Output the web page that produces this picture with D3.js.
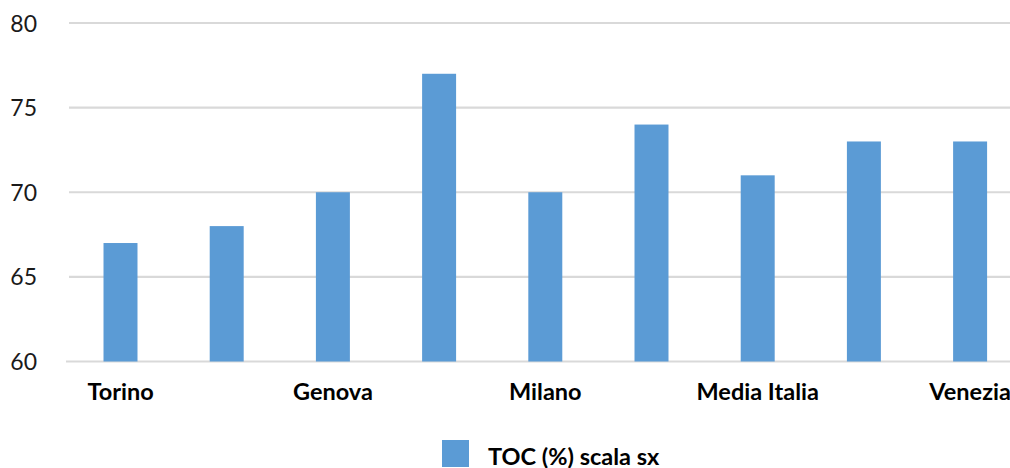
<!DOCTYPE html>
<html>
<head>
<meta charset="utf-8">
<script src="https://cdn.jsdelivr.net/npm/d3@7"></script>
<style>
  html, body { margin: 0; padding: 0; background: #fff; }
  svg { display: block; }
</style>
</head>
<body>
<svg id="chart" width="1010" height="468"></svg>
<script>
// Category labels (Excel only prints every other one, the rest stay blank)
const categories = ["Torino", "", "Genova", "", "Milano", "", "Media Italia", "", "Venezia"];
// TOC (%) per category
const tocValues = [67, 68, 70, 77, 70, 74, 71, 73, 73];
// Left-axis ticks
const yTicks = [60, 65, 70, 75, 80];
const seriesName = "TOC (%) scala sx";

const barColor = "#5B9BD5";
const gridColor = "#D9D9D9";
const fontFamily = "Lato, 'Open Sans', sans-serif";

const svg = d3.select("#chart");

const x = d3.scaleBand()
  .domain(d3.range(categories.length))
  .range([67.4, 1023.2])
  .paddingInner(0.68)
  .paddingOuter(0.34);

const y = d3.scaleLinear()
  .domain([60, 80])
  .range([361.5, 23]);

// Horizontal gridlines
svg.append("g")
  .selectAll("line")
  .data(yTicks)
  .join("line")
  .attr("x1", d => d === 60 ? 66 : 69)
  .attr("x2", 1023)
  .attr("y1", d => y(d))
  .attr("y2", d => y(d))
  .attr("stroke", gridColor)
  .attr("stroke-width", 2.2);

// Left axis labels
const yAxis = d3.axisLeft(y).tickValues(yTicks).tickSize(0).tickPadding(0);
svg.append("g")
  .attr("transform", "translate(37,0)")
  .call(yAxis)
  .call(g => g.select(".domain").remove())
  .call(g => g.selectAll("text")
    .attr("font-family", fontFamily)
    .attr("font-size", 23)
    .attr("fill", "#1a1a1a")
    .attr("dy", "0.35em"));

// Bars
svg.append("g")
  .selectAll("rect")
  .data(tocValues)
  .join("rect")
  .attr("x", (d, i) => x(i))
  .attr("width", x.bandwidth())
  .attr("y", d => y(d))
  .attr("height", d => y(60) - y(d))
  .attr("fill", barColor);

// Category axis labels
const xAxis = d3.axisBottom(x).tickSize(0).tickPadding(0).tickFormat(i => categories[i]);
svg.append("g")
  .attr("transform", "translate(0,383.5)")
  .call(xAxis)
  .call(g => g.select(".domain").remove())
  .call(g => g.selectAll("text")
    .attr("font-family", fontFamily)
    .attr("font-weight", "bold")
    .attr("font-size", 23.5)
    .attr("fill", "#000")
    .attr("dy", "0.72em"));

// Legend
const legend = svg.append("g").attr("transform", "translate(442,440)");
legend.append("rect")
  .attr("width", 27)
  .attr("height", 27)
  .attr("fill", barColor);
legend.append("text")
  .attr("x", 46)
  .attr("y", 24.5)
  .attr("font-family", fontFamily)
  .attr("font-weight", "bold")
  .attr("font-size", 23.5)
  .attr("fill", "#000")
  .text(seriesName);
</script>
</body>
</html>
